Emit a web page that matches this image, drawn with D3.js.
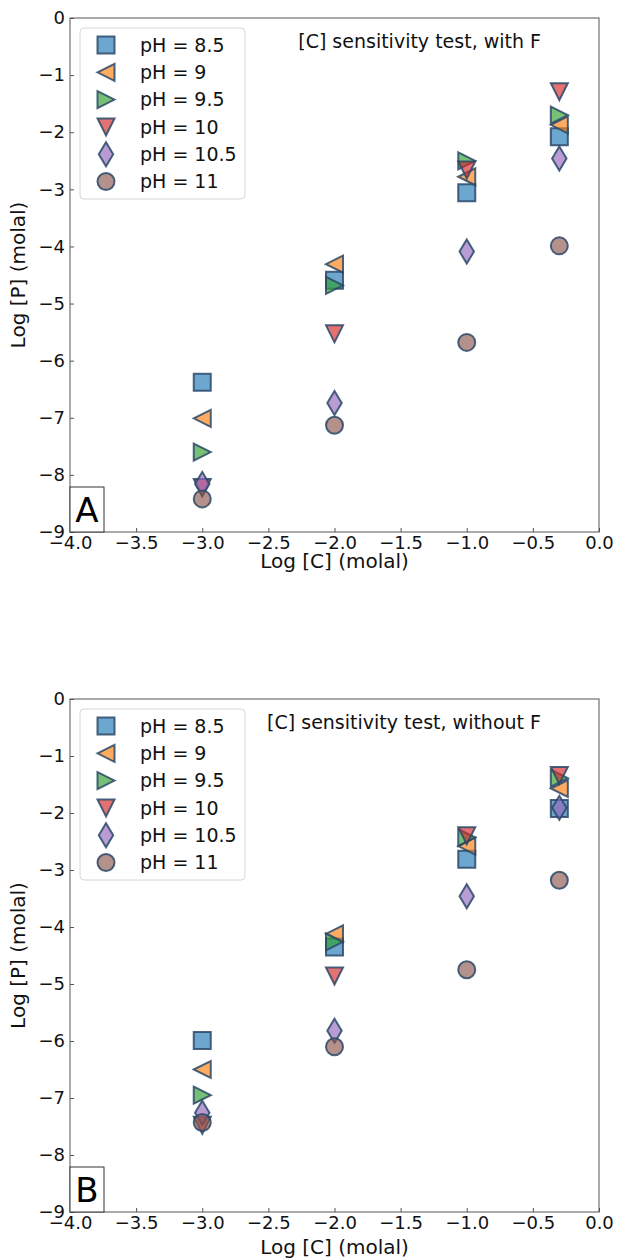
<!DOCTYPE html>
<html>
<head>
<meta charset="utf-8">
<script src="https://cdn.jsdelivr.net/npm/d3@7"></script>
<style>
  html, body { margin: 0; padding: 0; background: #fff; }
  svg { display: block; font-family: "DejaVu Sans", sans-serif; }
</style>
</head>
<body>
<svg id="chart" width="617" height="1259"></svg>
<script>
// Log [C] sampled at four concentrations
const logC = [-3, -2, -1, -0.3];
const phLabels = ["pH = 8.5", "pH = 9", "pH = 9.5", "pH = 10", "pH = 10.5", "pH = 11"];

// Log [P] per pH, with F
const withF_ph85  = [-6.38, -4.59, -3.06, -2.08];
const withF_ph9   = [-7.01, -4.31, -2.78, -1.87];
const withF_ph95  = [-7.60, -4.68, -2.50, -1.70];
const withF_ph10  = [-8.22, -5.53, -2.66, -1.29];
const withF_ph105 = [-8.16, -6.74, -4.09, -2.46];
const withF_ph11  = [-8.42, -7.13, -5.68, -3.99];

// Log [P] per pH, without F
const noF_ph85  = [-5.99, -4.35, -2.81, -1.92];
const noF_ph9   = [-6.50, -4.12, -2.58, -1.57];
const noF_ph95  = [-6.95, -4.26, -2.43, -1.39];
const noF_ph10  = [-7.48, -4.86, -2.40, -1.34];
const noF_ph105 = [-7.26, -5.82, -3.46, -1.91];
const noF_ph11  = [-7.43, -6.10, -4.75, -3.18];

const xTicks = [-4, -3.5, -3, -2.5, -2, -1.5, -1, -0.5, 0];
const yTicks = [0, -1, -2, -3, -4, -5, -6, -7, -8, -9];

const colors = ["#1f77b4", "#ff7f0e", "#2ca02c", "#d62728", "#9467bd", "#8c564b"];
const shapes = ["square", "left", "right", "down", "thin_diamond", "circle"];

const panels = [
  { top: 18, bottom: 532, title: "[C] sensitivity test, with F", tag: "A",
    series: [withF_ph85, withF_ph9, withF_ph95, withF_ph10, withF_ph105, withF_ph11],
    xLabelY: 568 },
  { top: 699, bottom: 1212, title: "[C] sensitivity test, without F", tag: "B",
    series: [noF_ph85, noF_ph9, noF_ph95, noF_ph10, noF_ph105, noF_ph11],
    xLabelY: 1254 }
];

const left = 70, right = 599;
const MS = 17; // marker size in px
const EDGE = "#2a4968";

function markerPath(shape, s) {
  const h = s / 2;
  const p = d3.path();
  switch (shape) {
    case "square":
      p.rect(-h, -h, s, s); break;
    case "left":
      p.moveTo(-h, 0); p.lineTo(h, -h); p.lineTo(h, h); p.closePath(); break;
    case "right":
      p.moveTo(h, 0); p.lineTo(-h, -h); p.lineTo(-h, h); p.closePath(); break;
    case "down":
      p.moveTo(0, h); p.lineTo(-h, -h); p.lineTo(h, -h); p.closePath(); break;
    case "thin_diamond": {
      const dy = 0.707 * s, dx = 0.424 * s;
      p.moveTo(0, -dy); p.lineTo(dx, 0); p.lineTo(0, dy); p.lineTo(-dx, 0); p.closePath(); break;
    }
    case "circle":
      p.moveTo(h, 0); p.arc(0, 0, h, 0, 2 * Math.PI); p.closePath(); break;
  }
  return p.toString();
}

function styleMarker(sel, i) {
  sel.attr("fill", colors[i])
     .attr("fill-opacity", 0.65)
     .attr("stroke", EDGE)
     .attr("stroke-opacity", 0.85)
     .attr("stroke-width", 2)
     .attr("stroke-linejoin", "miter");
}

const svg = d3.select("#chart");

panels.forEach(pn => {
  const x = d3.scaleLinear().domain([-4, 0]).range([left, right]);
  const y = d3.scaleLinear().domain([-9, 0]).range([pn.bottom, pn.top]);
  const g = svg.append("g");

  // axes with inward ticks
  const xAxis = d3.axisBottom(x).tickValues(xTicks).tickSizeInner(-4).tickSizeOuter(0)
    .tickPadding(4).tickFormat(d3.format(".1f"));
  const yAxis = d3.axisLeft(y).tickValues(yTicks).tickSizeInner(-4).tickSizeOuter(0)
    .tickPadding(5).tickFormat(d3.format("d"));

  const gx = g.append("g").attr("transform", `translate(0,${pn.bottom})`).call(xAxis);
  const gy = g.append("g").attr("transform", `translate(${left},0)`).call(yAxis);
  [gx, gy].forEach(a => {
    a.select(".domain").remove();
    a.selectAll(".tick line").attr("stroke", "#555");
    a.selectAll(".tick text").attr("font-size", 18).attr("fill", "#111")
      .attr("font-family", "DejaVu Sans");
  });

  // frame
  g.append("rect").attr("x", left).attr("y", pn.top)
    .attr("width", right - left).attr("height", pn.bottom - pn.top)
    .attr("fill", "none").attr("stroke", "#555").attr("stroke-width", 1);

  // markers, drawn in series order so later pH values sit on top
  pn.series.forEach((vals, i) => {
    g.append("g").selectAll("path").data(vals).join("path")
      .attr("d", markerPath(shapes[i], MS))
      .attr("transform", (d, j) => `translate(${x(logC[j])},${y(d)})`)
      .call(styleMarker, i);
  });

  // legend
  const lg = g.append("g").attr("transform", `translate(80,${pn.top + 10})`);
  lg.append("rect").attr("width", 165).attr("height", 171).attr("rx", 4)
    .attr("fill", "#fff").attr("fill-opacity", 0.8)
    .attr("stroke", "#d6d6d6").attr("stroke-width", 1);
  phLabels.forEach((lab, i) => {
    const row = lg.append("g").attr("transform", `translate(0,${17 + i * 27.3})`);
    row.append("path").attr("d", markerPath(shapes[i], MS))
      .attr("transform", "translate(26,0)").call(styleMarker, i);
    row.append("text").attr("x", 60).attr("y", 0).attr("dy", "0.36em")
      .attr("font-size", 19).attr("fill", "#111").text(lab);
  });

  // title
  g.append("text").attr("x", 541).attr("y", pn.top + 30)
    .attr("text-anchor", "end").attr("font-size", 19).attr("fill", "#111")
    .text(pn.title);

  // panel tag box
  const tb = g.append("g");
  tb.append("rect").attr("x", left).attr("y", pn.bottom - 45)
    .attr("width", 34).attr("height", 45)
    .attr("fill", "#fff").attr("stroke", "#333").attr("stroke-width", 1);
  tb.append("text").attr("x", left + 17).attr("y", pn.bottom - 10)
    .attr("text-anchor", "middle").attr("font-size", 34).attr("fill", "#000")
    .text(pn.tag);

  // axis titles
  g.append("text").attr("x", (left + right) / 2).attr("y", pn.xLabelY)
    .attr("text-anchor", "middle").attr("font-size", 20).attr("fill", "#111")
    .text("Log [C] (molal)");
  g.append("text")
    .attr("transform", `translate(25,${(pn.top + pn.bottom) / 2}) rotate(-90)`)
    .attr("text-anchor", "middle").attr("font-size", 20).attr("fill", "#111")
    .text("Log [P] (molal)");
});
</script>
</body>
</html>
